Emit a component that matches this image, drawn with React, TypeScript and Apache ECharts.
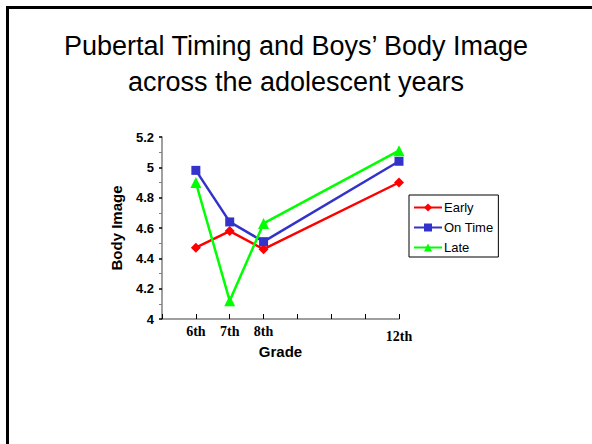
import React, { useEffect, useRef } from "react";
import * as echarts from "echarts";

const gradeValues = [6, 7, 8, 12];
const gradeLabels = ["6th", "7th", "8th", "12th"];
const early = [4.47, 4.58, 4.46, 4.9];
const onTime = [4.98, 4.64, 4.51, 5.04];
const late = [4.9, 4.12, 4.63, 5.11];
const yTicks = [4, 4.2, 4.4, 4.6, 4.8, 5, 5.2];
const titleText = "Pubertal Timing and Boys\u2019 Body Image\nacross the adolescent years";

const toPairs = (vals: number[]) => vals.map((v, i) => [gradeValues[i], v]);

export default function App() {
  const ref = useRef<HTMLDivElement>(null);
  useEffect(() => {
    if (!ref.current) return;
    const chart = echarts.init(ref.current, null, { renderer: "svg" });
    const labelMap: Record<number, string> = {};
    gradeValues.forEach((g, i) => {
      labelMap[g] = gradeLabels[i];
    });
    chart.setOption({
      animation: false,
      backgroundColor: "#ffffff",
      textStyle: { fontFamily: "Liberation Sans, Arial, sans-serif" },
      graphic: [
        {
          type: "rect",
          shape: { x: 7.5, y: 7.5, width: 700, height: 600 },
          style: { fill: "none", stroke: "#000", lineWidth: 3 },
          silent: true,
        },
        {
          type: "text",
          x: 296,
          y: 28,
          style: {
            text: titleText,
            fontSize: 27,
            lineHeight: 36,
            fontFamily: "Liberation Sans, Arial, sans-serif",
            fill: "#000",
            align: "center",
            verticalAlign: "top",
          },
          silent: true,
        },
      ],
      legend: {
        orient: "vertical",
        left: 409,
        top: 195,
        borderColor: "#000",
        borderWidth: 1,
        padding: [6, 5, 3, 4],
        itemWidth: 28,
        itemHeight: 10,
        itemGap: 7,
        textStyle: { fontSize: 13, color: "#000", padding: [0, 0, 0, -3] },
        data: ["Early", "On Time", "Late"],
      },
      grid: { left: 162, right: 193, top: 137, bottom: 125 },
      xAxis: {
        type: "value",
        min: 5,
        max: 12,
        interval: 1,
        name: "Grade",
        nameLocation: "middle",
        nameGap: 21,
        nameTextStyle: { fontSize: 15, fontWeight: "bold", color: "#000" },
        axisLine: { show: true, lineStyle: { color: "#808080", width: 1.5 } },
        axisTick: { show: true, inside: true, length: 5, lineStyle: { color: "#000" } },
        splitLine: { show: false },
        axisLabel: {
          showMinLabel: true,
          showMaxLabel: true,
          margin: 5,
          color: "#000",
          fontFamily: "Liberation Serif, Times New Roman, serif",
          fontWeight: "bold",
          fontSize: 14,
          formatter: (v: number) => {
            const s = labelMap[v];
            if (!s) return "";
            return v === 12 ? "{b|" + s + "}" : s;
          },
          rich: {
            b: {
              fontFamily: "Liberation Serif, Times New Roman, serif",
              fontWeight: "bold",
              fontSize: 14,
              color: "#000",
              padding: [5, 0, 0, 0],
            },
          },
        },
      },
      yAxis: {
        type: "value",
        min: yTicks[0],
        max: yTicks[yTicks.length - 1],
        interval: 0.2,
        name: "Body Image",
        nameLocation: "middle",
        nameGap: 38,
        nameTextStyle: { fontSize: 15, fontWeight: "bold", color: "#000" },
        axisLine: { show: true, lineStyle: { color: "#808080", width: 1.5 } },
        axisTick: { show: true, inside: false, length: 3, lineStyle: { color: "#000", width: 1.5 } },
        minorTick: { show: true, splitNumber: 2, length: 3, lineStyle: { color: "#808080" } },
        splitLine: { show: false },
        axisLabel: {
          margin: 8,
          color: "#000",
          fontSize: 13,
          fontWeight: "bold",
          formatter: (v: number) => String(Math.round(v * 10) / 10),
        },
      },
      series: [
        {
          name: "Early",
          type: "line",
          data: toPairs(early),
          symbol: "diamond",
          symbolSize: 10,
          itemStyle: { color: "#ff0000" },
          lineStyle: { color: "#ff0000", width: 2.5 },
        },
        {
          name: "On Time",
          type: "line",
          data: toPairs(onTime),
          symbol: "rect",
          symbolSize: 9,
          itemStyle: { color: "#3333cc" },
          lineStyle: { color: "#3333cc", width: 2.5 },
        },
        {
          name: "Late",
          type: "line",
          data: toPairs(late),
          symbol: "triangle",
          symbolSize: 11,
          itemStyle: { color: "#00ff00" },
          lineStyle: { color: "#00ff00", width: 2.5 },
        },
      ],
    });
    return () => chart.dispose();
  }, []);
  return (
    <div
      ref={ref}
      style={{ position: "fixed", left: 0, top: 0, width: 592, height: 444 }}
    />
  );
}
